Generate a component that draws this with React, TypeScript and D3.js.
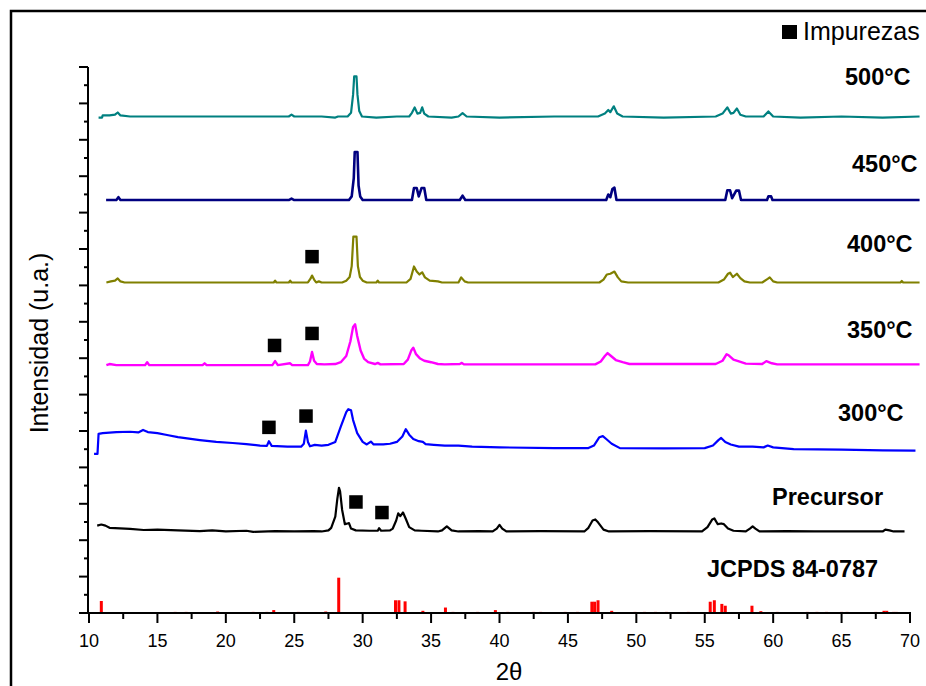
import React from "react";
import * as d3 from "d3";

// ---------- data (2θ in degrees, intensity in arbitrary units) ----------
const thetaTickLabels = [10, 15, 20, 25, 30, 35, 40, 45, 50, 55, 60, 65, 70];
const seriesNames = ["JCPDS 84-0787", "Precursor", "300°C", "350°C", "400°C", "450°C", "500°C"];
const seriesOffsets = [0, 224, 460, 681, 908, 1134.5, 1364];
const legendLabel = "Impurezas";
const xAxisTitle = "2θ";
const yAxisTitle = "Intensidad (u.a.)";

type P = [number, number];

const jcpdsBars: P[] = [
  [10.9, 33], [16.3, 3], [17.1, 3], [19.4, 4], [22.0, 3], [23.0, 3], [23.5, 8], [25.3, 3],
  [27.3, 4], [28.25, 97], [32.4, 35], [32.65, 35], [33.1, 32], [34.4, 6], [36.05, 15],
  [36.6, 3], [38.4, 3], [39.7, 8], [40.6, 3], [42.5, 3], [43.0, 3], [44.8, 3], [45.7, 3],
  [46.75, 31], [46.95, 31], [47.2, 35], [48.2, 6], [49.9, 3], [50.6, 3], [51.4, 3],
  [52.2, 3], [53.8, 3], [55.4, 31], [55.7, 35], [56.25, 25], [56.5, 20], [58.45, 20],
  [59.1, 5], [60.3, 3], [62.5, 3], [63.2, 3], [63.9, 3], [65.0, 3], [65.4, 3], [67.5, 3],
  [68.1, 6], [68.3, 6], [68.8, 3], [69.0, 3],
];

const precursor: P[] = [
  [10.6, 16], [10.9, 19], [11.2, 16], [11.5, 10], [11.9, 9], [13, 7], [14, 4], [15, 5],
  [16.5, 3], [18.1, 1], [19, 3], [20, 0], [21.5, 2], [22, -1], [23.6, 1], [25, 0],
  [26.4, 1], [27.0, 0], [27.5, 3], [27.7, 10], [28.0, 41], [28.15, 90], [28.27, 120],
  [28.35, 110], [28.5, 59], [28.7, 20], [28.9, 22], [29.0, 23], [29.15, 8], [29.5, 3],
  [30.5, 2], [31.1, 2], [31.2, 9], [31.35, 2], [32.0, 3], [32.2, 8], [32.45, 30],
  [32.6, 50], [32.75, 42], [32.95, 52], [33.15, 35], [33.4, 12], [33.8, 3], [34.3, 2],
  [35.5, 0], [35.8, 3], [36.15, 14], [36.5, 3], [37.0, 0], [38.5, 1], [39.5, 0],
  [39.8, 8], [40.0, 18], [40.2, 8], [40.5, 0], [43, 1], [46.2, 0], [46.5, 10], [46.8, 30],
  [47.0, 33], [47.2, 25], [47.6, 5], [48.0, 0], [51, 1], [54.8, 0], [55.2, 12],
  [55.55, 33], [55.7, 36], [55.95, 20], [56.2, 22], [56.4, 20], [56.7, 8], [57.1, 2],
  [58.0, 0], [58.3, 8], [58.5, 14], [58.7, 8], [59.0, 0], [61, 1], [63, 0], [68.0, 0],
  [68.2, 5], [68.5, 3], [68.8, 0], [69.6, 0],
];

const c300: P[] = [
  [10.37, -23], [10.62, -23], [10.7, 32], [11.0, 34], [12.0, 37], [13.0, 38], [13.6, 36],
  [13.95, 43], [14.3, 37], [15.0, 34], [15.7, 29], [16.5, 23], [17.3, 19], [18.1, 15],
  [19.3, 10], [20.5, 7], [21.5, 4], [22.5, 0], [23.0, -1], [23.15, 12], [23.35, -1],
  [24.5, -3], [25.5, -3], [25.7, 5], [25.85, 41], [26.0, 10], [26.15, -2], [26.5, 2],
  [27.0, 0], [27.5, 2], [28.0, 10], [28.4, 52], [28.8, 92], [28.95, 100], [29.15, 97],
  [29.3, 70], [29.6, 34], [30.0, 10], [30.3, 3], [30.6, 11], [30.8, 3], [31.5, 3],
  [32.0, 5], [32.5, 10], [32.9, 25], [33.15, 45], [33.4, 30], [33.7, 18], [34.1, 12],
  [34.4, 10], [34.6, 4], [35.2, 2], [36.0, 0], [37.0, 0], [38, -3], [40, -5], [44, -7],
  [46.5, -7], [46.9, 0], [47.3, 23], [47.55, 26], [47.8, 18], [48.2, 5], [48.8, -7],
  [52, -8], [55, -7], [55.6, 0], [56.0, 15], [56.2, 21], [56.5, 10], [56.9, 3],
  [57.5, -3], [58.5, -3], [59.3, -5], [59.6, 0], [60.0, -5], [61.5, -10], [65, -11],
  [68, -13], [70.4, -14],
];

const c350: P[] = [
  [11.27, 0], [11.5, 3], [12, 0], [14.1, 0], [14.25, 8], [14.4, 0], [18.3, 0],
  [18.45, 5], [18.6, 0], [21, 0], [23.4, 0], [23.6, 11], [23.8, 0], [24.7, 5],
  [24.85, 0], [26.0, 0], [26.15, 10], [26.3, 36], [26.45, 12], [26.65, 3], [27.2, 2],
  [28.0, 3], [28.4, 8], [28.8, 25], [29.1, 65], [29.3, 105], [29.45, 112], [29.6, 80],
  [29.85, 40], [30.1, 18], [30.4, 8], [30.9, 3], [31.1, 6], [31.3, 2], [33.0, 3],
  [33.3, 15], [33.55, 40], [33.7, 48], [33.9, 30], [34.2, 18], [34.5, 12], [35.0, 8],
  [35.5, 3], [36.0, 2], [37.1, 3], [37.25, 6], [37.4, 2], [47.0, 2], [47.4, 10],
  [47.7, 25], [47.9, 33], [48.15, 25], [48.5, 14], [49.0, 8], [49.5, 3], [55.8, 3],
  [56.3, 12], [56.6, 30], [56.75, 27], [57.1, 15], [57.5, 10], [58.0, 4], [59.2, 3],
  [59.5, 11], [59.9, 5], [60.3, 2], [70.7, 2],
];

const c400: P[] = [
  [11.27, 0], [11.6, 3], [11.9, 5], [12.1, 11], [12.3, 3], [12.6, 0], [23.5, 0],
  [23.6, 5], [23.7, 0], [24.6, 0], [24.7, 5], [24.8, 0], [26.0, 0], [26.2, 11],
  [26.3, 19], [26.45, 8], [26.6, 0], [26.8, 3], [27.0, 0], [28.5, 0], [28.8, 5],
  [29.05, 15], [29.2, 45], [29.32, 126], [29.55, 126], [29.65, 45], [29.8, 15],
  [30.0, 5], [30.3, 0], [31.0, 0], [31.1, 5], [31.2, 0], [33.2, 0], [33.5, 10],
  [33.75, 44], [33.95, 30], [34.15, 22], [34.35, 28], [34.55, 14], [34.9, 5], [35.5, 3],
  [35.8, 0], [37.0, 0], [37.2, 14], [37.45, 3], [37.7, 0], [47.3, 0], [47.6, 8],
  [47.85, 22], [48.1, 24], [48.4, 30], [48.65, 14], [48.9, 3], [49.4, 0], [56.0, 0],
  [56.4, 8], [56.7, 24], [56.85, 27], [57.05, 15], [57.35, 24], [57.6, 12], [57.9, 3],
  [58.3, 0], [59.2, 0], [59.6, 10], [59.75, 14], [60.0, 3], [60.3, 0], [69.3, 0],
  [69.4, 4], [69.5, 0], [70.7, 0],
];

const c450: P[] = [
  [11.25, 0], [12.0, 0], [12.15, 8], [12.3, 0], [24.6, 0], [24.8, 4], [25.0, 0],
  [29.0, 0], [29.2, 10], [29.35, 60], [29.42, 132], [29.62, 132], [29.7, 40],
  [29.82, 10], [30.0, 0], [33.6, 0], [33.75, 33], [33.95, 33], [34.1, 10], [34.3, 33],
  [34.5, 33], [34.65, 0], [37.1, 0], [37.3, 12], [37.5, 0], [47.8, 0], [47.95, 15],
  [48.1, 8], [48.25, 30], [48.4, 34], [48.55, 0], [56.5, 0], [56.65, 27], [56.85, 27],
  [57.0, 5], [57.3, 26], [57.5, 26], [57.65, 0], [59.55, 0], [59.65, 10], [59.85, 10],
  [59.95, 0], [70.7, 0],
];

const c500: P[] = [
  [10.7, -3], [10.95, -3], [11.0, 3], [11.5, 3], [11.9, 5], [12.1, 11], [12.3, 3],
  [13, 0], [16, 0], [20, 0], [24.6, 0], [24.8, 5], [25.0, 0], [27, 0], [28.0, -3],
  [28.2, 0], [28.9, 0], [29.15, 10], [29.3, 60], [29.38, 110], [29.55, 110],
  [29.62, 60], [29.75, 15], [29.95, 0], [31, -3], [32.5, 0], [33.4, 0], [33.6, 10],
  [33.8, 25], [34.0, 8], [34.2, 10], [34.35, 25], [34.5, 8], [34.8, 0], [36.5, -3],
  [37.0, 0], [37.3, 9], [37.6, 0], [40, -3], [44, 0], [47.2, 0], [47.7, 8], [47.95, 18],
  [48.1, 12], [48.35, 28], [48.6, 8], [49.0, 0], [52, -3], [55.8, 0], [56.3, 8],
  [56.65, 25], [56.9, 8], [57.1, 10], [57.35, 22], [57.6, 5], [58, 0], [59.3, 0],
  [59.65, 14], [60.0, 0], [62, -3], [65, 0], [68, -3], [70.7, 0],
];

// impurity markers: [2θ, intensity]
const impurityMarks: P[] = [
  [26.3, 979], [23.56, 735], [26.3, 768], [23.15, 510], [25.86, 541], [29.51, 305], [31.41, 276],
];

// ---------- styling ----------
const lineSeries = [precursor, c300, c350, c400, c450, c500];
const lineColors = ["#000000", "#0000FF", "#FF00FF", "#808000", "#000080", "#008080"];
const lineWidths = [2.2, 2.2, 2.4, 2.2, 2.6, 2.2];
const FONT = "'Liberation Sans', Arial, Helvetica, sans-serif";

export default function App() {
  const W = 926;
  const H = 686;
  const x = d3.scaleLinear().domain([10, 70]).range([89, 910]);
  const y = d3.scaleLinear().domain([0, 1500]).range([613, 67]);
  const line = d3
    .line<P>()
    .x((d) => x(d[0]))
    .y((d) => y(d[1]));

  const xMinor = d3.range(12.5, 70, 5);
  const yMajor = d3.range(0, 1501, 100);
  const yMinor = d3.range(50, 1500, 100);

  // label anchors (px) for each series name
  const labelPos: [number, number][] = [
    [707, 577],
    [772, 505],
    [838, 420.5],
    [847, 337.5],
    [847, 252],
    [852, 171.7],
    [845, 85],
  ];

  const sq = 13.5;

  return (
    <svg
      width={W}
      height={H}
      style={{ position: "absolute", left: 0, top: 0, background: "#fff" }}
      fontFamily={FONT}
    >
      <rect x={0} y={0} width={W} height={H} fill="#fff" />
      <rect x={11} y={11} width={1000} height={1000} fill="none" stroke="#000" strokeWidth={2.5} />

      {/* JCPDS reference bars */}
      {jcpdsBars.map((d, i) => (
        <rect
          key={"b" + i}
          x={x(d[0]) - 1.5}
          width={3}
          y={y(d[1])}
          height={y(0) - y(d[1])}
          fill="#FF0000"
        />
      ))}

      {/* patterns */}
      {lineSeries.map((s, i) => (
        <path
          key={"l" + i}
          d={line(s.map((p) => [p[0], p[1] + seriesOffsets[i + 1]] as P)) || ""}
          fill="none"
          stroke={lineColors[i]}
          strokeWidth={lineWidths[i]}
          strokeLinejoin="round"
        />
      ))}

      {/* axes */}
      <g stroke="#000" strokeWidth={2}>
        <line x1={x(10) - 1} x2={x(70) + 1} y1={y(0)} y2={y(0)} />
        <line x1={x(10) - 1} x2={x(10) - 1} y1={y(0)} y2={y(1500)} />
        {thetaTickLabels.map((t) => (
          <line key={"xt" + t} x1={x(t)} x2={x(t)} y1={y(0)} y2={y(0) + 10} />
        ))}
        {xMinor.map((t) => (
          <line key={"xm" + t} x1={x(t)} x2={x(t)} y1={y(0)} y2={y(0) + 6} />
        ))}
        {yMajor.map((v) => (
          <line key={"yt" + v} x1={x(10) - 1} x2={x(10) - 10} y1={y(v)} y2={y(v)} />
        ))}
        {yMinor.map((v) => (
          <line key={"ym" + v} x1={x(10) - 1} x2={x(10) - 5} y1={y(v)} y2={y(v)} />
        ))}
      </g>
      {thetaTickLabels.map((t) => (
        <text key={"xl" + t} x={x(t)} y={646.5} fontSize={18} textAnchor="middle" fill="#000">
          {t}
        </text>
      ))}

      <text x={509} y={680} fontSize={24} textAnchor="middle" fill="#000">
        {xAxisTitle}
      </text>
      <text
        transform={`translate(48,343) rotate(-90)`}
        fontSize={25}
        textAnchor="middle"
        fill="#000"
      >
        {yAxisTitle}
      </text>

      {/* impurity markers */}
      {impurityMarks.map((d, i) => (
        <rect key={"m" + i} x={x(d[0]) - sq / 2} y={y(d[1]) - sq / 2} width={sq} height={sq} fill="#000" />
      ))}

      {/* series labels */}
      {seriesNames.map((n, i) => (
        <text key={"n" + i} x={labelPos[i][0]} y={labelPos[i][1]} fontSize={23.5} fontWeight="bold" fill="#000">
          {n}
        </text>
      ))}

      {/* legend */}
      <rect x={782} y={25} width={15} height={14} fill="#000" />
      <text x={803} y={39.5} fontSize={25} fill="#000">
        {legendLabel}
      </text>
    </svg>
  );
}
